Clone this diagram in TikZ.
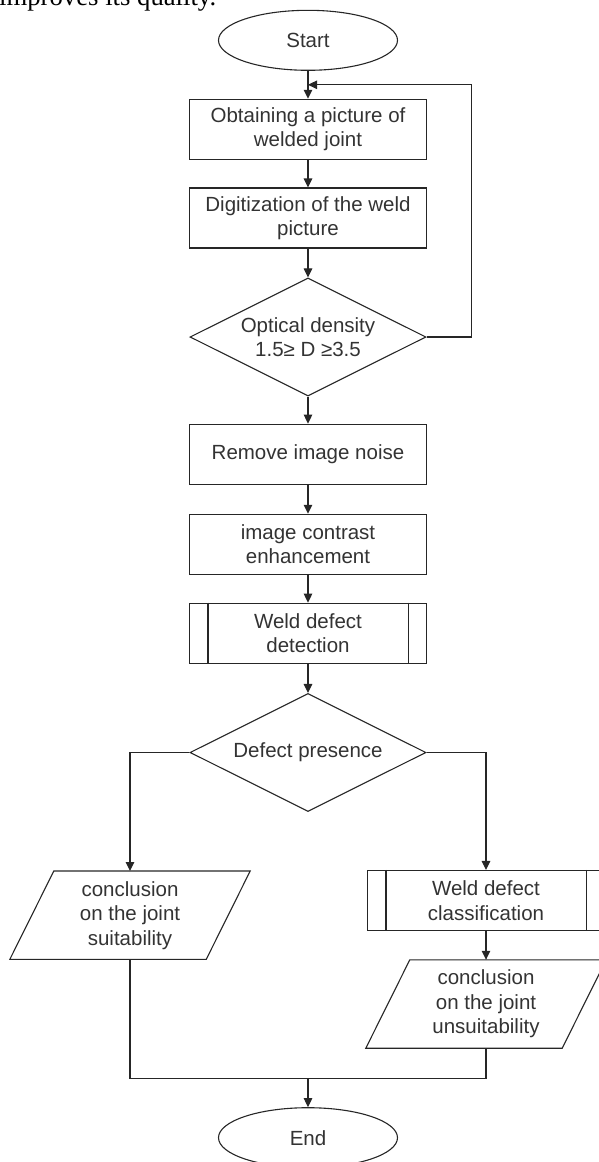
\documentclass[tikz,border=0pt]{standalone}
\usepackage{fontspec}
\setmainfont{Liberation Sans}
\newfontfamily\bodyserif{Liberation Serif}
\usetikzlibrary{shapes.geometric,arrows.meta,calc}
\newcommand{\slantbox}[1]{%
  \draw[line] ($(#1.north west)+(22,0)$) -- ($(#1.north east)+(22,0)$) -- ($(#1.south east)-(22,0)$) -- ($(#1.south west)-(22,0)$) -- cycle;}
\newcommand{\subbars}[1]{%
  \draw[line] ($(#1.north west)+(19,0)$) -- ($(#1.south west)+(19,0)$);
  \draw[line] ($(#1.north east)-(19,0)$) -- ($(#1.south east)-(19,0)$);}

\begin{document}
\begin{tikzpicture}[x=1pt,y=-1pt,
    line/.style={draw=black!85,line width=1.1pt},
    arr/.style={line,-{Triangle[length=9pt,width=8.5pt]}},
    every node/.style={font=\fontsize{20.5}{24.5}\selectfont,text=black!80,align=center,inner sep=0pt},
    box/.style={line,rectangle,minimum width=237pt,minimum height=60pt},
    term/.style={line,ellipse,minimum width=179pt,minimum height=60pt},
    decide/.style={line,diamond,aspect=2,minimum width=236pt,minimum height=118pt},
    io/.style={rectangle,minimum width=196pt,minimum height=88pt}]
    \useasboundingbox (0,0) rectangle (599,1162);
    \clip (0,0) rectangle (599,1162);

    \node[anchor=base west,text=black,font=\bodyserif\fontsize{26.7}{30}\selectfont] (intro) at (-1,5.5) {improves its quality.};

    \node[term] (start) at (308,40.3) {Start};
    \node[box] (obtain) at (308,129.3) {Obtaining a picture of\\welded joint};
    \node[box] (digit) at (308,218) {Digitization of the weld\\picture};
    \node[decide] (density) at (308,337) {Optical density\\1.5≥ D ≥3.5};
    \node[box] (noise) at (308,454.2) {Remove image noise};
    \node[box] (contrast) at (308,544.3) {image contrast\\enhancement};
    \node[box] (detect) at (308,633.2) {Weld defect\\detection};
    \node[decide] (presence) at (308,752.5) {Defect presence};
    \node[io] (suit) at (130,915.2) {conclusion\\on the joint\\suitability};
    \node[box] (classif) at (486,900.5) {Weld defect\\classification};
    \node[io] (unsuit) at (486,1004) {conclusion\\on the joint\\unsuitability};
    \node[term] (end) at (308,1137.7) {End};

    \slantbox{suit}
    \slantbox{unsuit}
    \subbars{detect}
    \subbars{classif}

    \coordinate (back) at ($(start.south)!0.5!(obtain.north)$);
    \coordinate (join) at (308,1078.3);

    \draw[arr] (start) -- (obtain);
    \draw[arr] (obtain) -- (digit);
    \draw[arr] (digit) -- (density);
    \draw[arr] (density.east) -- ++(45,0) |- (back);
    \draw[arr] (density) -- (noise);
    \draw[arr] (noise) -- (contrast);
    \draw[arr] (contrast) -- (detect);
    \draw[arr] (detect) -- (presence);
    \draw[arr] (presence.west) -| (suit.north);
    \draw[arr] (presence.east) -| (classif.north);
    \draw[arr] (classif) -- (unsuit);
    \draw[line] (suit.south) |- (join) -| (unsuit.south);
    \draw[arr] (join) -- (end);
\end{tikzpicture}
\end{document}
